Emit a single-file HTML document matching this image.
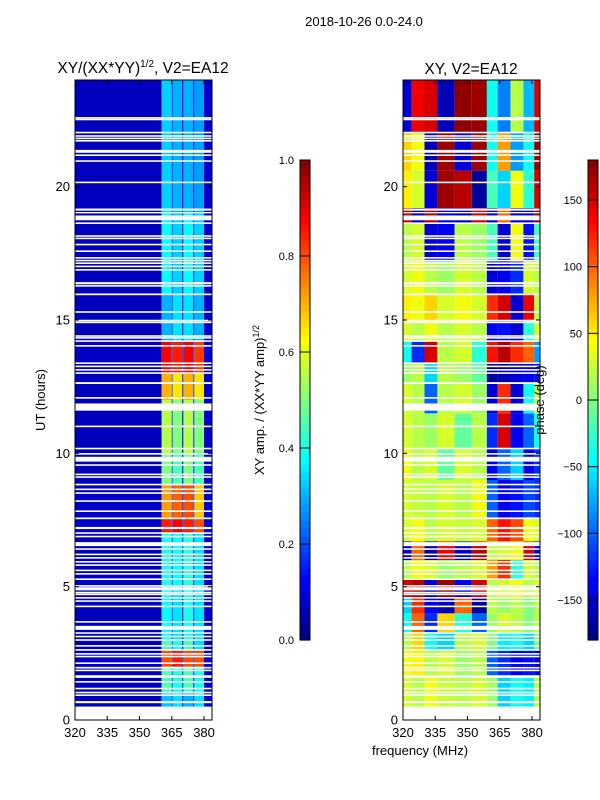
<!DOCTYPE html>
<html><head><meta charset="utf-8">
<style>
html,body{margin:0;padding:0;background:#fff;}
svg{display:block;font-family:"Liberation Sans",sans-serif;}
</style></head>
<body>
<svg id="fig" width="600" height="800" viewBox="0 0 600 800">
<text x="364" y="26" font-size="13" text-anchor="middle">2018-10-26 0.0-24.0</text>
<text x="143" y="73" font-size="15.5" text-anchor="middle">XY/(XX*YY)<tspan font-size="10" dy="-6">1/2</tspan><tspan dy="6">, V2=EA12</tspan></text>
<text x="471" y="74" font-size="15.5" text-anchor="middle">XY, V2=EA12</text>
<text transform="translate(45,400) rotate(-90)" font-size="13" text-anchor="middle">UT (hours)</text>
<text x="420" y="755" font-size="13" text-anchor="middle">frequency (MHz)</text>
<text transform="translate(264,400) rotate(-90)" font-size="13" text-anchor="middle">XY amp. / (XX*YY amp)<tspan font-size="9" dy="-5">1/2</tspan></text>
<g id="leftAx"></g>
<g id="rightAx"></g>
<text transform="translate(544,400) rotate(-90)" font-size="13" text-anchor="middle">phase (deg)</text>
<g id="cb1"></g>
<g id="cb2"></g>
</svg>
<script>
// ---- data ----
const ampFreqEdges = [320, 360.3, 365, 365.4, 369.8, 370.4, 375, 375.5, 380, 384];
const ampTimeEdges = [0.5, 1.0, 2.0, 2.6, 3.0, 5.0, 7.0, 7.6, 8.8, 10.0, 12.0, 13.0, 14.2, 16.0, 19.0, 24.0];
const ampValues = [
 [0.06,0.32,0.15,0.35,0.15,0.3,0.15,0.35,0.08],
 [0.06,0.45,0.15,0.4,0.2,0.45,0.15,0.4,0.08],
 [0.07,0.8,0.2,0.85,0.2,0.8,0.2,0.8,0.09],
 [0.06,0.45,0.15,0.4,0.15,0.45,0.15,0.35,0.08],
 [0.06,0.38,0.15,0.35,0.15,0.4,0.15,0.35,0.08],
 [0.06,0.4,0.15,0.38,0.2,0.42,0.15,0.35,0.08],
 [0.07,0.85,0.2,0.88,0.2,0.85,0.2,0.8,0.09],
 [0.07,0.72,0.2,0.78,0.2,0.8,0.2,0.68,0.09],
 [0.06,0.5,0.15,0.45,0.15,0.5,0.15,0.45,0.08],
 [0.06,0.55,0.15,0.5,0.15,0.55,0.15,0.5,0.08],
 [0.06,0.7,0.2,0.65,0.2,0.7,0.2,0.65,0.08],
 [0.07,0.88,0.2,0.85,0.2,0.88,0.2,0.82,0.09],
 [0.06,0.3,0.15,0.35,0.15,0.35,0.15,0.3,0.08],
 [0.06,0.38,0.15,0.33,0.15,0.38,0.15,0.33,0.08],
 [0.06,0.33,0.12,0.3,0.12,0.3,0.12,0.28,0.08]
];
const phaseFreqEdges = [320, 324, 330, 336, 344, 352, 359, 364, 370, 376, 381, 384];
const phaseTimeEdges = [0.5, 1.6, 2.6, 3.3, 4.0, 4.6, 5.3, 6.0, 6.7, 7.6, 9.0, 10.2, 11.5, 12.6, 13.4, 14.2, 15.0, 16.0, 17.2, 18.6, 19.2, 20.6, 22.0, 24.0];
const phaseValues = [
 [30,20,40,25,20,30,10,-60,-40,-50,20],
 [40,50,20,30,10,20,-100,-120,-140,-130,-150],
 [20,60,-40,-60,20,30,0,-50,-40,-60,0],
 [-40,100,-120,60,-30,-100,10,30,20,0,20],
 [-60,120,-140,-160,100,-170,20,10,20,0,20],
 [150,160,-150,170,-140,150,20,30,40,20,30],
 [20,40,30,10,20,30,80,120,-30,30,20],
 [-150,100,-160,140,-150,160,20,30,40,150,-150],
 [30,40,20,30,25,30,100,130,110,40,30],
 [30,25,20,30,20,40,-100,-140,-130,-110,-120],
 [40,20,30,-10,30,20,-140,-100,-60,-140,-120],
 [30,20,10,30,-10,20,-120,150,-140,-100,-40],
 [30,20,-100,20,30,10,-150,120,-150,-40,20],
 [10,20,-60,20,10,-10,-170,-160,-150,-140,-130],
 [-40,-120,150,20,30,-30,130,160,120,100,-80],
 [30,20,40,20,30,20,-140,-130,-150,-30,30],
 [50,40,60,30,40,30,120,150,-150,140,20],
 [30,40,20,10,30,20,-150,-140,-120,30,20],
 [20,30,-150,-140,20,10,-20,-150,40,-130,-20],
 [150,-150,160,-140,-160,150,-150,100,-150,-140,170],
 [50,30,-150,170,160,-170,-20,-60,40,-30,150],
 [60,40,-160,170,-150,170,-40,80,-80,-40,170],
 [-150,140,150,-160,175,170,-40,-90,20,-70,150]
];
const gapHours = [0,22.55,22.49,22.0,21.87,21.78,21.69,21.27,21.15,20.93,20.13,19.1,19.0,18.74,18.6,18.12,18.03,17.8,17.55,17.3,17.2,17.1,16.98,16.85,16.34,16.25,15.93,15.27,14.95,14.88,14.37,14.3,14.18,14.0,13.35,13.23,13.1,12.98,12.6,12.05,11.79,11.6,10.98,10.15,9.95,9.69,9.53,9.18,9.08,8.8,8.62,8.48,8.18,7.8,7.53,7.16,6.98,6.85,6.52,6.38,6.18,6.05,5.9,5.78,5.58,5.45,5.25,5.0,4.86,4.75,4.68,4.55,4.43,4.23,3.65,3.38,3.23,3.1,2.97,2.75,2.6,2.45,2.35,2.1,1.93,1.83,1.58,1.4,1.15,1.0,0.9,0.63];
const gapWidths = [0.5,0.06,0.06,0.06,0.06,0.06,0.06,0.11,0.06,0.06,0.06,0.08,0.05,0.18,0.06,0.06,0.06,0.06,0.06,0.06,0.06,0.06,0.06,0.06,0.08,0.06,0.06,0.06,0.06,0.06,0.06,0.06,0.06,0.06,0.06,0.06,0.06,0.06,0.07,0.06,0.08,0.2,0.06,0.06,0.06,0.18,0.06,0.06,0.06,0.06,0.06,0.06,0.06,0.06,0.06,0.08,0.06,0.06,0.15,0.06,0.06,0.06,0.06,0.06,0.06,0.06,0.06,0.06,0.12,0.06,0.06,0.06,0.06,0.06,0.06,0.15,0.06,0.06,0.06,0.06,0.06,0.06,0.06,0.06,0.06,0.06,0.1,0.06,0.06,0.06,0.06,0.08];
const xTicks = [320,335,350,365,380];
const yTicks = [0,5,10,15,20];
const ampTicks = [0.0,0.2,0.4,0.6,0.8,1.0];
const phaseTicks = [-150,-100,-50,0,50,100,150];

// ---- helpers ----
const NS='http://www.w3.org/2000/svg';
function jet(x){x=Math.max(0,Math.min(1,x));
 const c=v=>Math.round(255*Math.max(0,Math.min(1,v)));
 const r=1.5-Math.abs(4*x-3), g=1.5-Math.abs(4*x-2), b=1.5-Math.abs(4*x-1);
 return `rgb(${c(r)},${c(g)},${c(b)})`;}
function mk(tag,attrs,parent){const e=document.createElementNS(NS,tag);for(const k in attrs)e.setAttribute(k,attrs[k]);parent.appendChild(e);return e;}
const AX={y0:80,y1:720,f0:320,f1:383.7,t0:0,t1:24};
function drawPanel(g,left,fEdges,tEdges,vals,norm){
 const w=137;
 const xs=f=>left+(Math.min(f,AX.f1)-AX.f0)/(AX.f1-AX.f0)*w;
 const ys=t=>AX.y1-(t-AX.t0)/(AX.t1-AX.t0)*(AX.y1-AX.y0);
 for(let i=0;i<vals.length;i++)for(let j=0;j<vals[i].length;j++){
  const x0=xs(fEdges[j]),x1=xs(fEdges[j+1]),yA=ys(tEdges[i+1]),yB=ys(tEdges[i]);
  const r=mk('rect',{x:x0,y:yA,width:Math.max(0,x1-x0),height:yB-yA,fill:jet(norm(vals[i][j]))},g);
  
  
 }
 for(let k=0;k<gapHours.length;k++){
  const r=mk('rect',{x:left,y:ys(gapHours[k]+gapWidths[k]),width:w,height:gapWidths[k]/24*640,fill:'#fff'},g);
  
  
 }
 const fr=mk('rect',{x:left,y:AX.y0,width:w,height:640,fill:'none',stroke:'#000','stroke-width':1},g);
 
 
 xTicks.forEach(v=>{const x=xs(v);
  mk('line',{x1:x,x2:x,y1:AX.y1,y2:AX.y1-4,stroke:'#000'},g);
  mk('line',{x1:x,x2:x,y1:AX.y0,y2:AX.y0+4,stroke:'#000'},g);
  const t=mk('text',{x:x,y:737,'font-size':13,'text-anchor':'middle'},g);t.textContent=v;
  
  });
 yTicks.forEach(v=>{const y=ys(v);
  mk('line',{x1:left,x2:left+4,y1:y,y2:y,stroke:'#000'},g);
  mk('line',{x1:left+w,x2:left+w-4,y1:y,y2:y,stroke:'#000'},g);
  const t=mk('text',{x:left-5,y:y+4.5,'font-size':13,'text-anchor':'end'},g);t.textContent=v;
  
  });
}
drawPanel(document.getElementById('leftAx'),75,ampFreqEdges,ampTimeEdges,ampValues,v=>v);
drawPanel(document.getElementById('rightAx'),403,phaseFreqEdges,phaseTimeEdges,phaseValues,v=>(v+180)/360);

function drawCbar(g,x,ticks,vmin,vmax,fmt){
 const y0=160,h=480,n=60;
 for(let i=0;i<n;i++){const r=mk('rect',{x:x,y:y0+h-(i+1)*h/n,width:10,height:h/n+0.6,fill:jet((i+0.5)/n)},g);
  
  }
 mk('rect',{x:x,y:y0,width:10,height:h,fill:'none',stroke:'#000'},g);
 ticks.forEach(v=>{const y=y0+h-(v-vmin)/(vmax-vmin)*h;
  mk('line',{x1:x,x2:x+10,y1:y,y2:y,stroke:'#000'},g);
  const t=mk('text',{x:x-6,y:y+4,'font-size':11,'text-anchor':'end'},g);t.textContent=fmt(v);
  
  });
}
drawCbar(document.getElementById('cb1'),300,ampTicks,0,1,v=>v.toFixed(1));
drawCbar(document.getElementById('cb2'),588,phaseTicks,-180,180,v=>v<0?'\u2212'+(-v):String(v));
</script>
</body></html>
